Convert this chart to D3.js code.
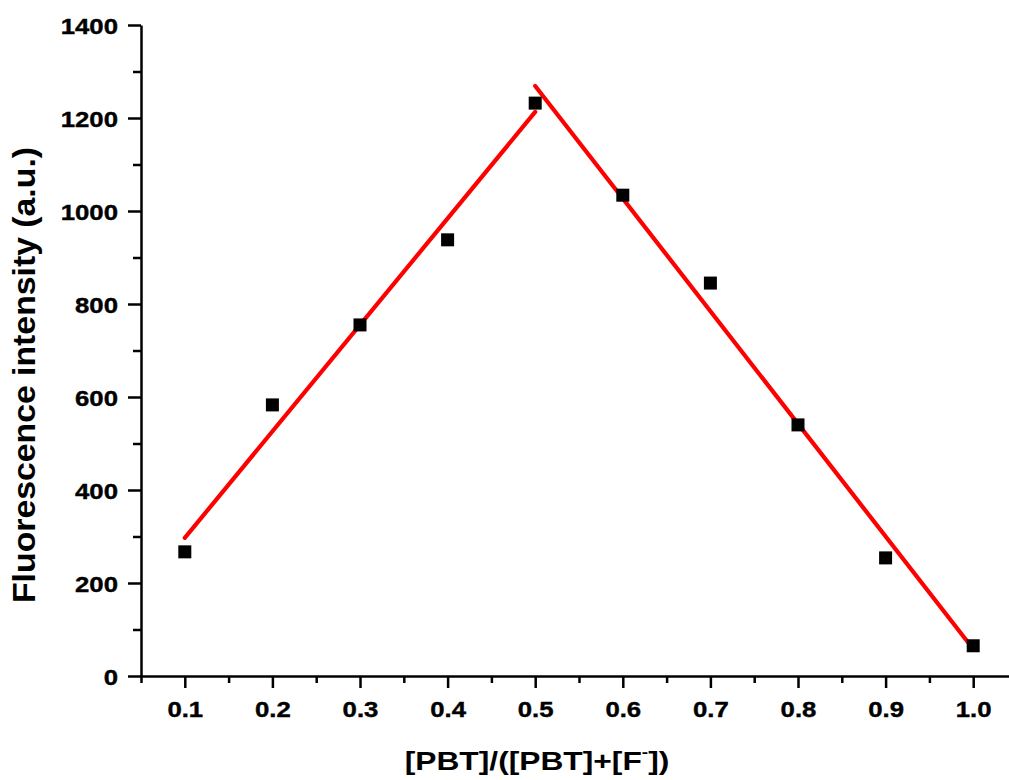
<!DOCTYPE html>
<html>
<head>
<meta charset="utf-8">
<script src="https://cdn.jsdelivr.net/npm/d3@7"></script>
<style>
  html, body { margin: 0; padding: 0; background: #fff; }
  svg { display: block; }
  text { font-family: "Liberation Sans", Arial, sans-serif; font-weight: bold; fill: #000; }
</style>
</head>
<body>
<svg id="chart" width="1009" height="780"></svg>
<script>
// ---- data ----
const ratio = [0.1, 0.2, 0.3, 0.4, 0.5, 0.6, 0.7, 0.8, 0.9, 1.0];
const intensity = [267, 583, 755, 938, 1232, 1034, 845, 540, 254, 65];
const fitRise = [[0.1, 297], [0.5, 1213]];
const fitFall = [[0.5, 1269], [1.0, 58]];
const xMajorTicks = [0.1, 0.2, 0.3, 0.4, 0.5, 0.6, 0.7, 0.8, 0.9, 1.0];
const xMinorTicks = [0.05, 0.15, 0.25, 0.35, 0.45, 0.55, 0.65, 0.75, 0.85, 0.95, 1.05];
const yMajorTicks = [0, 200, 400, 600, 800, 1000, 1200, 1400];
const yMinorTicks = [100, 300, 500, 700, 900, 1100, 1300];
const xTitle = "[PBT]/([PBT]+[F";
const yTitle = "Fluorescence intensity (a.u.)";

// ---- layout ----
const svg = d3.select("#chart");
const x = d3.scaleLinear().domain([0.05, 1.05]).range([141, 1017]);
const y = d3.scaleLinear().domain([0, 1400]).range([676, 25]);
const sx = 1.17;
const tickFont = 22;

// x minor ticks
svg.append("g").attr("transform", "translate(0,676)")
  .call(d3.axisBottom(x).tickValues(xMinorTicks).tickSize(7).tickSizeOuter(0).tickFormat(""))
  .call(g => g.select(".domain").remove())
  .call(g => g.selectAll("line").attr("stroke-width", 2.5));
// y minor ticks
svg.append("g").attr("transform", "translate(141,0)")
  .call(d3.axisLeft(y).tickValues(yMinorTicks).tickSize(8).tickSizeOuter(0).tickFormat(""))
  .call(g => g.select(".domain").remove())
  .call(g => g.selectAll("line").attr("stroke-width", 2.5));

// x major axis
svg.append("g").attr("transform", "translate(0,676)")
  .call(d3.axisBottom(x).tickValues(xMajorTicks).tickSize(12).tickSizeOuter(0).tickFormat(d3.format(".1f")))
  .call(g => g.select(".domain").attr("stroke-width", 2.5))
  .call(g => g.selectAll("line").attr("stroke-width", 2.5))
  .call(g => g.selectAll("text")
      .attr("y", 41).attr("dy", 0)
      .attr("font-size", tickFont).attr("font-family", "Liberation Sans, Arial, sans-serif")
      .attr("font-weight", "bold").attr("fill", "#000")
      .attr("stroke", "#000").attr("stroke-width", 0.4)
      .attr("transform", `scale(${sx},1)`));

// y major axis
svg.append("g").attr("transform", "translate(141,0)")
  .call(d3.axisLeft(y).tickValues(yMajorTicks).tickSize(13).tickSizeOuter(0).tickFormat(d3.format("d")))
  .call(g => g.select(".domain").attr("stroke-width", 2.5))
  .call(g => g.selectAll("line").attr("stroke-width", 2.5))
  .call(g => g.selectAll("text")
      .attr("x", -23 / sx).attr("dy", 8)
      .attr("font-size", tickFont).attr("font-family", "Liberation Sans, Arial, sans-serif")
      .attr("font-weight", "bold").attr("fill", "#000")
      .attr("stroke", "#000").attr("stroke-width", 0.4)
      .attr("transform", `scale(${sx},1)`));

// fit lines
const line = d3.line().x(d => x(d[0])).y(d => y(d[1]));
[fitRise, fitFall].forEach(seg => {
  svg.append("path").datum(seg).attr("d", line)
    .attr("fill", "none").attr("stroke", "#ff0000")
    .attr("stroke-width", 4.2).attr("stroke-linecap", "round");
});

// data points
const sq = 13;
svg.append("g").selectAll("rect").data(ratio).join("rect")
  .attr("x", d => x(d) - sq / 2)
  .attr("y", (d, i) => y(intensity[i]) - sq / 2)
  .attr("width", sq).attr("height", sq).attr("fill", "#000");

// axis titles
const xt = svg.append("text")
  .attr("transform", "translate(537,770) scale(1.27,1)")
  .attr("text-anchor", "middle").attr("font-size", 25);
xt.append("tspan").text(xTitle);
xt.append("tspan").attr("font-size", 15).attr("dy", -13).text("-");
xt.append("tspan").attr("dy", 13).text("])");

svg.append("text")
  .attr("transform", "translate(35,375) rotate(-90) scale(1.09,1)")
  .attr("text-anchor", "middle").attr("font-size", 31)
  .text(yTitle);
</script>
</body>
</html>
